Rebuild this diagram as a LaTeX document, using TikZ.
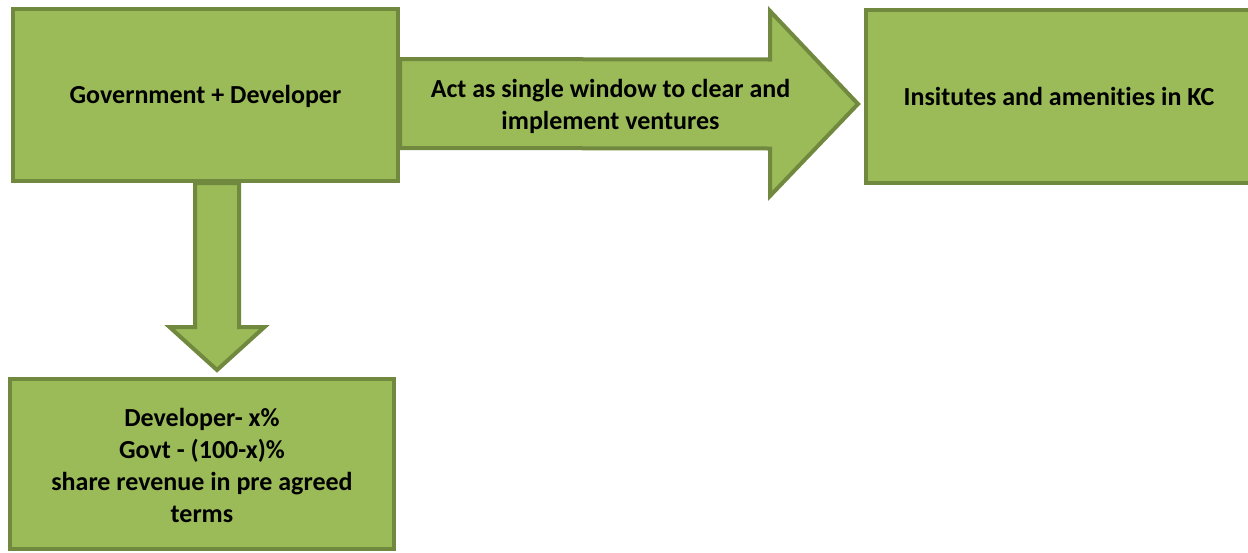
\documentclass[tikz,border=0pt]{standalone}
\usepackage{fontspec}
\setmainfont{Carlito}[Ligatures=NoCommon]
\usetikzlibrary{calc}
\definecolor{leaf}{HTML}{9BBB59}
\definecolor{leafedge}{HTML}{71893F}
\begin{document}
\begin{tikzpicture}[x=1pt,y=-1pt,
  block/.style={draw=leafedge,fill=leaf,line width=4pt,rectangle,
    align=center,inner sep=0pt,font=\bfseries\fontsize{26}{32}\selectfont},
  blockarrow/.style={draw=leafedge,fill=leaf,line width=4pt,line join=miter},
  caption/.style={align=center,font=\bfseries\fontsize{26}{32}\selectfont}]
\useasboundingbox (0,0) rectangle (1248,552);

% boxes (text placed by its baseline relative to the box centre)
\node[block,minimum width=385pt,minimum height=172pt] (gd) at (205.5,95)
  {\raisebox{-8pt}[0pt][0pt]{Government + Developer}};
\node[block,minimum width=386pt,minimum height=173pt] (inst) at (1059,96.5)
  {\raisebox{-8.5pt}[0pt][0pt]{Insitutes and amenities in KC}};
\node[block,minimum width=384pt,minimum height=170pt] (share) at (202,464)
  {\raisebox{-58pt}[0pt][0pt]{\begin{tabular}[b]{@{}c@{}}Developer- x\%\\Govt - (100-x)\%\\share revenue in pre agreed\\terms\end{tabular}}};

% right block arrow: from the first box to the institutes box
\coordinate (rs) at ($(gd.east)+(0,8.5)$);
\coordinate (rt) at ($(inst.west)+(-6,7.5)$);
\draw[blockarrow] ($(rs)+(0,-44.5)$) -- ($(rt)+(-88,-44.5)$) -- ($(rt)+(-88,-93)$)
  -- (rt) -- ($(rt)+(-88,92)$) -- ($(rt)+(-88,44.5)$) -- ($(rs)+(0,44.5)$) -- cycle;
\node[caption] (act) at (610.5,106) {Act as single window to clear and\\implement ventures};

% down block arrow: from the first box to the revenue box
\coordinate (ds) at ($(gd.south)+(11.5,0)$);
\coordinate (dt) at ($(share.north)+(15,-7)$);
\draw[blockarrow] ($(ds)+(-22,0)$) -- ($(dt)+(-22,-43)$) -- ($(dt)+(-47.5,-43)$)
  -- (dt) -- ($(dt)+(47.5,-43)$) -- ($(dt)+(22,-43)$) -- ($(ds)+(22,0)$) -- cycle;
\end{tikzpicture}
\end{document}
